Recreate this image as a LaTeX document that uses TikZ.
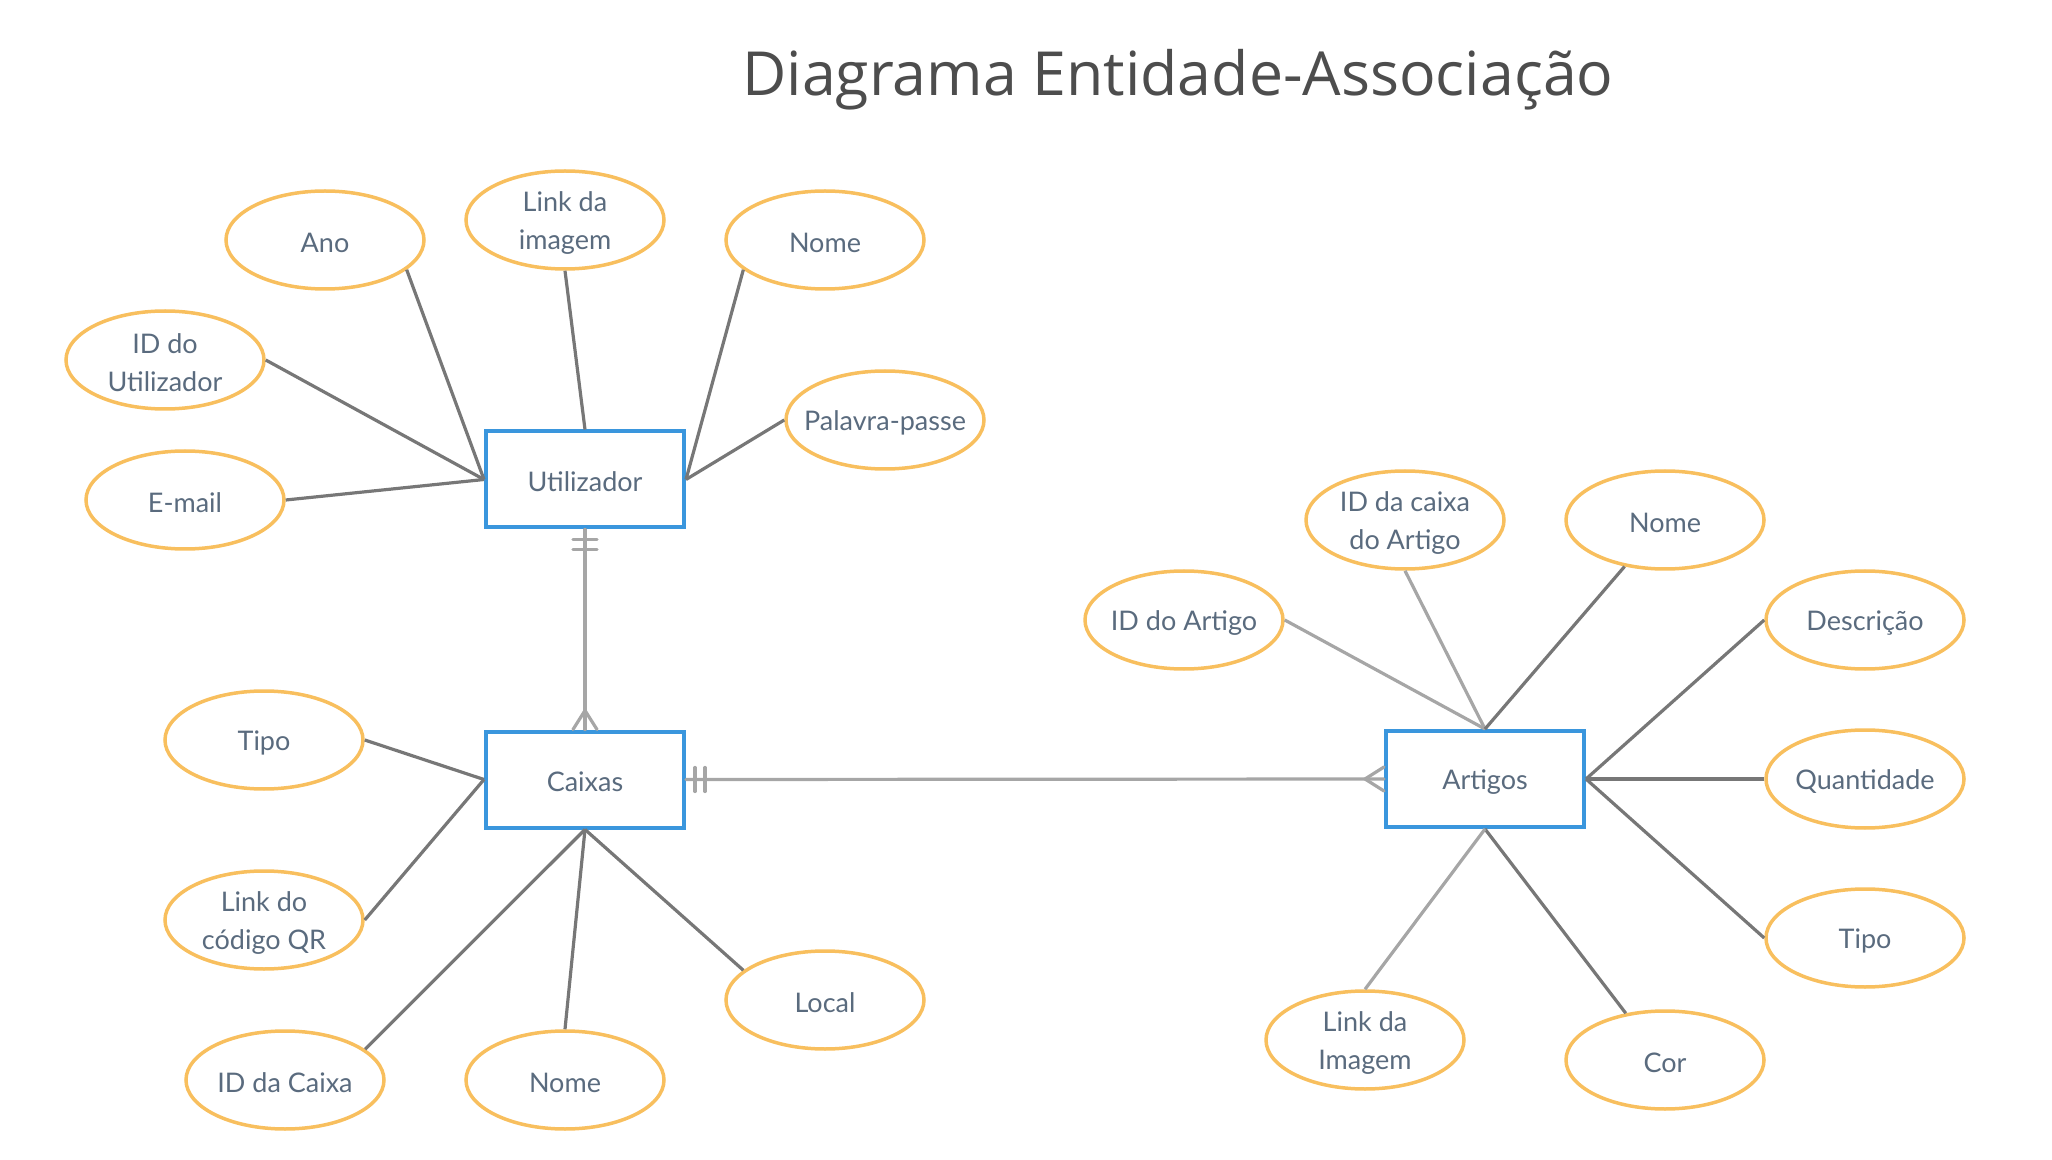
\documentclass[tikz,border=0pt]{standalone}
\usepackage{fontspec}
\setmainfont{Lato}
\newfontfamily\titlefont{Open Sans}
\usetikzlibrary{shapes.geometric,calc}
\definecolor{attrc}{HTML}{F8BF5E}
\definecolor{entc}{HTML}{3A96DD}
\definecolor{txtc}{HTML}{5A6B7E}
\definecolor{darkl}{HTML}{777777}
\definecolor{lightl}{HTML}{A6A6A6}
\definecolor{titlec}{HTML}{4D4D4D}
\begin{document}
\begin{tikzpicture}[x=0.5pt,y=-0.5pt,
 attrtext/.style={text=txtc, font=\fontsize{13.5}{19}\selectfont, align=center, inner sep=0pt, yshift=-1.3pt},
 attr/.style={ellipse, draw=attrc, line width=1.75pt, minimum width=99pt, minimum height=49pt, inner sep=0pt,
   label={[attrtext]center:#1}},
 ent/.style={rectangle, draw=entc, line width=2pt, minimum width=99pt, minimum height=48pt, inner sep=0pt, text=txtc, font=\fontsize{13.5}{19}\selectfont},
 enttext/.style={text=txtc, font=\fontsize{13.5}{19}\selectfont, inner sep=0pt, yshift=-1.3pt},
 dl/.style={draw=darkl, line width=1.6pt},
 ll/.style={draw=lightl, line width=1.6pt},
 rel/.style={draw=lightl, line width=1.6pt, line cap=round},
]
\useasboundingbox (0,0) rectangle (2052,1160);
\node[font=\titlefont\fontsize{30.4}{38}\selectfont, text=titlec] (title) at (1178,80) {Diagrama Entidade-Associação};

% entities
\node[ent, label={[enttext]center:Utilizador}] (utl) at (585,479.5) {};
\node[ent, label={[enttext]center:Caixas}] (cx) at (585,779.5) {};
\node[ent, label={[enttext]center:Artigos}] (art) at (1485,779) {};

% Utilizador attributes
\node[attr={Ano}] (ano) at (325,240) {};
\node[attr={Link da\\imagem}] (limg) at (565,220) {};
\node[attr={Nome}] (unome) at (825,240) {};
\node[attr={ID do\\Utilizador}] (idu) at (165,360) {};
\node[attr={Palavra-passe}] (pass) at (885,420) {};
\node[attr={E-mail}] (email) at (185,500) {};

% Caixas attributes
\node[attr={Tipo}] (ctipo) at (264,740) {};
\node[attr={Link do\\código QR}] (cqr) at (264,920) {};
\node[attr={ID da Caixa}] (cid) at (285,1080) {};
\node[attr={Nome}] (cnome) at (565,1080) {};
\node[attr={Local}] (clocal) at (825,1000) {};

% Artigos attributes
\node[attr={ID do Artigo}] (aid) at (1184,620) {};
\node[attr={ID da caixa\\do Artigo}] (acx) at (1405,520) {};
\node[attr={Nome}] (anome) at (1665,520) {};
\node[attr={Descrição}] (adesc) at (1865,620) {};
\node[attr={Quantidade}] (aqt) at (1865,779) {};
\node[attr={Tipo}] (atipo) at (1865,938) {};
\node[attr={Cor}] (acor) at (1665,1060) {};
\node[attr={Link da\\Imagem}] (aimg) at (1365,1040) {};

% Utilizador connectors
\draw[dl] (ano.-20) -- (utl.west);
\draw[dl] (idu.east) -- (utl.west);
\draw[dl] (email.east) -- (utl.west);
\draw[dl] (limg.south) -- (utl.north);
\draw[dl] (unome.200) -- (utl.east);
\draw[dl] (pass.west) -- (utl.east);

% Caixas connectors
\draw[dl] (ctipo.east) -- (cx.west);
\draw[dl] (cqr.east) -- (cx.west);
\draw[dl] (cid.21) -- (cx.south);
\draw[dl] (cnome.north) -- (cx.south);
\draw[dl] (clocal.160) -- (cx.south);

% Artigos connectors
\draw[ll] (aid.east) -- (art.north);
\draw[ll] (acx.south) -- (art.north);
\draw[dl] (anome.229) -- (art.north);
\draw[dl] (adesc.west) -- (art.east);
\draw[dl] (aqt.west) -- (art.east);
\draw[dl] (atipo.west) -- (art.east);
\draw[dl] (acor.130) -- (art.south);
\draw[ll] (aimg.north) -- (art.south);

% relationship Utilizador - Caixas
\draw[rel] (utl.south) -- (cx.north);
\draw[rel] ($(utl.south)+(-12,10)$) -- ($(utl.south)+(12,10)$);
\draw[rel] ($(utl.south)+(-12,20)$) -- ($(utl.south)+(12,20)$);
\draw[rel] ($(cx.north)+(-12,0)$) -- ($(cx.north)+(0,-19)$) -- ($(cx.north)+(12,0)$);

% relationship Caixas - Artigos
\draw[rel] (cx.east) -- (art.west);
\draw[rel] ($(cx.east)+(9,-12)$) -- ($(cx.east)+(9,12)$);
\draw[rel] ($(cx.east)+(19,-12)$) -- ($(cx.east)+(19,12)$);
\draw[rel] ($(art.west)+(0,-12)$) -- ($(art.west)+(-19,0)$) -- ($(art.west)+(0,12)$);
\end{tikzpicture}
\end{document}
